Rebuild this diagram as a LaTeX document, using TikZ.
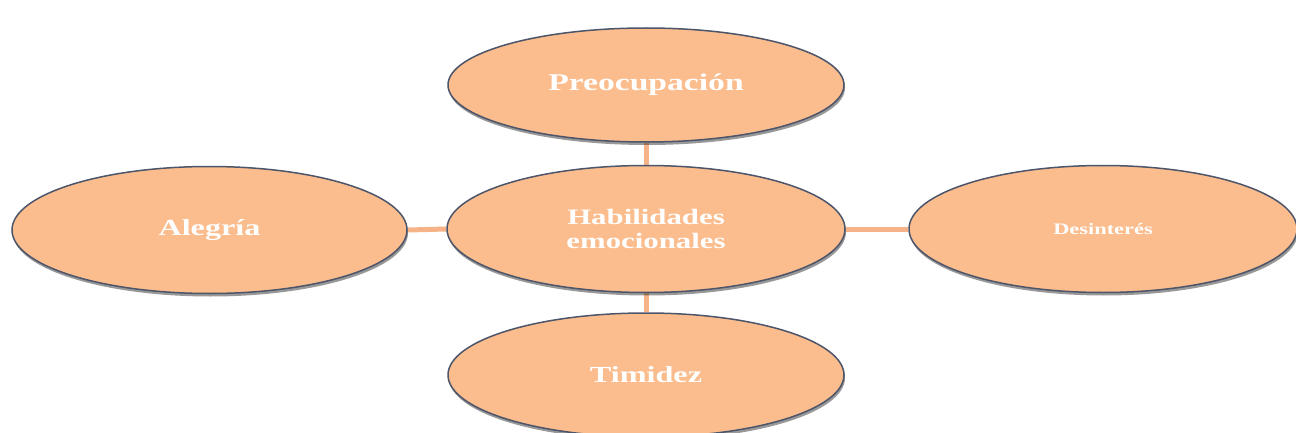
\documentclass[tikz,border=0pt]{standalone}
\usepackage{fontspec}
\setmainfont{Liberation Serif}
\newfontfamily\wideserif[FakeStretch=1.4]{Liberation Serif}
\usetikzlibrary{shapes.geometric,shadows,backgrounds}
\definecolor{peach}{HTML}{FBBD8E}
\definecolor{rim}{HTML}{4C5569}
\definecolor{linkc}{HTML}{F6B387}
\begin{document}
\begin{tikzpicture}[x=1pt,y=-1pt,
  bubble/.style={ellipse, draw=rim, line width=1.5pt, fill=peach, inner sep=0pt,
    text=white, align=center,
    drop shadow={shadow xshift=1pt, shadow yshift=-3pt, opacity=0.5, fill=black!80}},
  link/.style={draw=linkc, line width=5pt}]
\useasboundingbox (0,0) rectangle (1296,433);
\clip (0,0) rectangle (1296,433);
\node[bubble, minimum width=396pt, minimum height=114pt,
  font={\wideserif\bfseries\fontsize{24}{26}\selectfont}] (pre) at (646,85) {Preocupación};
\node[bubble, minimum width=398pt, minimum height=127pt,
  font={\wideserif\bfseries\fontsize{22}{24}\selectfont}] (hab) at (646,229) {Habilidades\\emocionales};
\node[bubble, minimum width=395pt, minimum height=127pt,
  font={\wideserif\bfseries\fontsize{23}{25}\selectfont}] (ale) at (209.5,230) {Alegría};
\node[bubble, minimum width=388pt, minimum height=127pt,
  font={\wideserif\bfseries\fontsize{16}{18}\selectfont}] (des) at (1103,229) {Desinterés};
\node[bubble, minimum width=396pt, minimum height=124pt,
  font={\wideserif\bfseries\fontsize{23}{25}\selectfont}] (tim) at (646,375) {Timidez};
\begin{scope}[on background layer]
  \fill[white] (0,0) rectangle (1296,433);
  \draw[link] (hab) -- (pre);
  \draw[link] (hab.west) -- (ale.east);
  \draw[link] (hab) -- (des);
  \draw[link] (hab) -- (tim);
\end{scope}
\end{tikzpicture}
\end{document}
